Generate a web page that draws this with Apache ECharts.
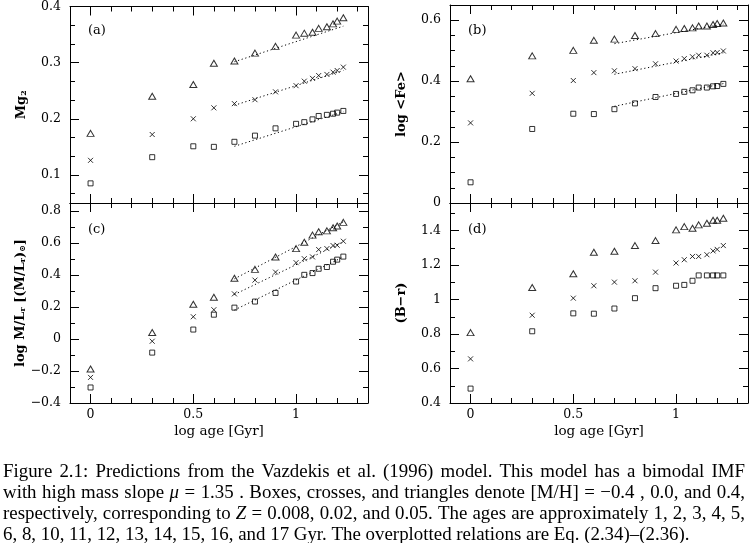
<!DOCTYPE html>
<html><head><meta charset="utf-8">
<script src="https://cdn.jsdelivr.net/npm/echarts@6/dist/echarts.min.js"></script>
<style>html,body{margin:0;padding:0;background:#fff}#c{width:749px;height:543px}</style>
</head><body><div id="c"></div>
<script>
// ---------- data ----------
const logAge = [0, 0.3, 0.5, 0.6, 0.7, 0.8, 0.9, 1.0, 1.04, 1.08, 1.11, 1.15, 1.18, 1.2, 1.23];

const mg2Box   = [0.085,0.1316,0.151,0.150,0.159,0.170,0.183,0.191,0.194,0.199,0.205,0.207,0.209,0.211,0.214];
const mg2Cross = [0.126,0.172,0.200,0.2195,0.227,0.234,0.248,0.259,0.267,0.272,0.277,0.279,0.283,0.286,0.292];
const mg2Tri   = [0.174,0.240,0.261,0.299,0.303,0.317,0.329,0.349,0.3525,0.354,0.361,0.364,0.369,0.374,0.380];

const feBox   = [0.068,0.243,0.293,0.292,0.308,0.327,0.348,0.358,0.365,0.370,0.379,0.379,0.383,0.384,0.391];
const feCross = [0.263,0.360,0.402,0.428,0.434,0.441,0.457,0.466,0.474,0.480,0.485,0.485,0.493,0.494,0.499];
const feTri   = [0.408,0.483,0.501,0.534,0.538,0.550,0.556,0.570,0.573,0.575,0.581,0.581,0.586,0.589,0.591];

const mlBox   = [-0.303,-0.085,0.059,0.152,0.196,0.234,0.288,0.359,0.401,0.412,0.439,0.450,0.483,0.496,0.515];
const mlCross = [-0.240,-0.014,0.139,0.183,0.282,0.368,0.418,0.477,0.502,0.513,0.559,0.565,0.584,0.586,0.611];
const mlTri   = [-0.188,0.041,0.217,0.261,0.380,0.435,0.513,0.565,0.605,0.649,0.670,0.676,0.695,0.706,0.729];

const brBox   = [0.4835,0.816,0.920,0.918,0.948,1.008,1.066,1.080,1.085,1.109,1.140,1.140,1.140,1.140,1.140];
const brCross = [0.656,0.909,1.008,1.080,1.101,1.109,1.159,1.212,1.231,1.250,1.250,1.260,1.282,1.291,1.313];
const brTri   = [0.808,1.070,1.150,1.274,1.280,1.313,1.342,1.404,1.423,1.414,1.433,1.443,1.460,1.460,1.472];

// overplotted relations (end points)
const mg2FitBox   = [[0.7,0.151],[1.23,0.2125]];
const mg2FitCross = [[0.7,0.224],[1.23,0.286]];
const mg2FitTri   = [[0.7,0.3016],[1.23,0.365]];
const feFitBox    = [[0.7,0.3175],[1.23,0.392]];
const feFitCross  = [[0.7,0.4226],[1.23,0.493]];
const feFitTri    = [[0.7,0.523],[1.23,0.587]];
const mlFitBox    = [[0.7,0.181],[1.23,0.513]];
const mlFitCross  = [[0.7,0.278],[1.23,0.607]];
const mlFitTri    = [[0.7,0.376],[1.23,0.733]];

// axes
const xRange = [-0.1, 1.35];
const xMajor = [0, 0.5, 1];
const xMinor = [-0.1,0,0.1,0.2,0.3,0.4,0.5,0.6,0.7,0.8,0.9,1.0,1.1,1.2,1.3];

const yRangeA = [0.05, 0.4];
const yMajorA = [0.1, 0.2, 0.3, 0.4];
const yMinorA = [0.0667,0.1,0.1333,0.1667,0.2,0.2333,0.2667,0.3,0.3333,0.3667,0.4];
const yRangeB = [0, 0.65];
const yMajorB = [0, 0.2, 0.4, 0.6];
const yMinorB = [0,0.05,0.1,0.15,0.2,0.25,0.3,0.35,0.4,0.45,0.5,0.55,0.6];
const yRangeC = [-0.4, 0.85];
const yMajorC = [-0.4,-0.2,0,0.2,0.4,0.6,0.8];
const yMinorC = [-0.4,-0.3,-0.2,-0.1,0,0.1,0.2,0.3,0.4,0.5,0.6,0.7,0.8];
const yRangeD = [0.4, 1.56];
const yMajorD = [0.4,0.6,0.8,1,1.2,1.4];
const yMinorD = [0.4,0.5,0.6,0.7,0.8,0.9,1.0,1.1,1.2,1.3,1.4,1.5];

const panelTags = ['(a)','(b)','(c)','(d)'];
const yNames = ['{m|Mg}{s|2}', 'log <Fe>', '{m|log M/L}{s|r}{m| [(M/L}{s|r}{m|)}{s|⊙}{m|]}', '(B−r)'];
const xName = 'log age [Gyr]';

const captionLines = [
  'Figure 2.1: Predictions from the Vazdekis et al. (1996) model. This model has a bimodal IMF',
  'with high mass slope *μ* = 1.35 . Boxes, crosses, and triangles denote [M/H] = −0.4 , 0.0, and 0.4,',
  'respectively, corresponding to *Z* = 0.008, 0.02, and 0.05. The ages are approximately 1, 2, 3, 4, 5,',
  '6, 8, 10, 11, 12, 13, 14, 15, 16, and 17 Gyr. The overplotted relations are Eq. (2.34)–(2.36).'
];

// ---------- layout ----------
const FONT = '"DejaVu Serif", serif';
const CAPFONT = '"Liberation Serif", serif';
const grids = [
  {left: 70,  top: 5,   width: 298, height: 198},
  {left: 450, top: 5,   width: 298, height: 198},
  {left: 70,  top: 203, width: 298, height: 200},
  {left: 450, top: 203, width: 298, height: 200}
];
const panels = [
  {yr: yRangeA, yMaj: yMajorA, yMin: yMinorA, xLabels: false, sets: [mg2Box, mg2Cross, mg2Tri], fits: [mg2FitBox, mg2FitCross, mg2FitTri]},
  {yr: yRangeB, yMaj: yMajorB, yMin: yMinorB, xLabels: false, sets: [feBox, feCross, feTri], fits: [feFitBox, feFitCross, feFitTri]},
  {yr: yRangeC, yMaj: yMajorC, yMin: yMinorC, xLabels: true,  sets: [mlBox, mlCross, mlTri], fits: [mlFitBox, mlFitCross, mlFitTri]},
  {yr: yRangeD, yMaj: yMajorD, yMin: yMinorD, xLabels: true,  sets: [brBox, brCross, brTri], fits: []}
];

const fmt = v => { const s = String(+v.toFixed(3)); return s.replace('-', '−'); };
const nameRich = {
  m: {fontFamily: FONT, fontSize: 13, color: '#000', fontWeight: 'bold'},
  s: {fontFamily: FONT, fontSize: 8, color: '#000', verticalAlign: 'bottom', padding: [0,0,0,0], lineHeight: 10, fontWeight: 'bold'}
};

function axis(dim, gi, pos, range, ticks, len, line, labels, name) {
  const a = {
    type: 'value', gridIndex: gi, position: pos, min: range[0], max: range[1],
    splitLine: {show: false},
    axisLine: {show: line, onZero: false, lineStyle: {color: '#000', width: 1}},
    axisTick: {show: true, inside: true, length: len, customValues: ticks, lineStyle: {color: '#000', width: 1}},
    axisLabel: labels ? {show: true, customValues: labels, formatter: fmt, color: '#000',
                         fontFamily: FONT, fontSize: 12.5, margin: dim === 'x' ? 5 : 9}
                      : {show: false}
  };
  if (name) Object.assign(a, name);
  return a;
}

const xAxes = [], yAxes = [], series = [];
panels.forEach((p, gi) => {
  const xn = p.xLabels ? {name: xName, nameLocation: 'middle', nameGap: 21,
    nameTextStyle: {fontFamily: FONT, fontSize: 13.5, color: '#000', fontWeight: 'normal'}} : null;
  xAxes.push(axis('x', gi, 'bottom', xRange, xMajor, 9, true, p.xLabels ? xMajor : null, xn));
  xAxes.push(axis('x', gi, 'bottom', xRange, xMinor, 5, false, null));
  xAxes.push(axis('x', gi, 'top', xRange, xMajor, 9, true, null));
  xAxes.push(axis('x', gi, 'top', xRange, xMinor, 5, false, null));
  const yn = {name: yNames[gi], nameLocation: 'middle', nameGap: 42, nameRotate: 90,
    nameTextStyle: {fontFamily: FONT, fontSize: 13, color: '#000', fontWeight: 'bold', rich: nameRich}};
  yAxes.push(axis('y', gi, 'left', p.yr, p.yMaj, 9, true, p.yMaj, yn));
  yAxes.push(axis('y', gi, 'left', p.yr, p.yMin, 5, false, null));
  yAxes.push(axis('y', gi, 'right', p.yr, p.yMaj, 9, true, null));
  yAxes.push(axis('y', gi, 'right', p.yr, p.yMin, 5, false, null));

  const syms = [
    {symbol: 'rect', size: 5},
    {symbol: 'path://M0 0L10 10M10 0L0 10', size: 5},
    {symbol: 'triangle', size: [7, 6]}
  ];
  p.sets.forEach((vals, k) => {
    series.push({
      type: 'scatter', xAxisIndex: gi * 4, yAxisIndex: gi * 4,
      data: vals.map((v, i) => [logAge[i], v]),
      symbol: syms[k].symbol, symbolSize: syms[k].size,
      itemStyle: {color: 'rgba(0,0,0,0)', borderColor: '#000', borderWidth: 1},
      emphasis: {disabled: true}, silent: true, z: 3
    });
  });
  p.fits.forEach(f => {
    series.push({
      type: 'line', xAxisIndex: gi * 4, yAxisIndex: gi * 4, data: f,
      showSymbol: false, symbol: 'none',
      lineStyle: {color: '#000', width: 1, type: [1.2, 2.6]}, silent: true, z: 2
    });
  });
});

// ---------- caption (justified) ----------
const graphics = [];
const tagPos = [[88, 31], [468, 31], [88, 230], [468, 230]];
panelTags.forEach((t, i) => graphics.push({type: 'text', x: tagPos[i][0], y: tagPos[i][1],
  style: {text: t, font: '13px ' + FONT, fill: '#000', align: 'left', verticalAlign: 'middle'}}));

const ctx = document.createElement('canvas').getContext('2d');
function tokFont(size, italic) { return (italic ? 'italic ' : '') + size + 'px ' + CAPFONT; }
function measure(tok, size) {
  const it = /^\*.*\*$/.test(tok);
  ctx.font = tokFont(size, it);
  return ctx.measureText(it ? tok.slice(1, -1) : tok).width;
}
let capSize = 16;
{
  const words = captionLines[3].split(' ');
  ctx.font = tokFont(16, false);
  const sp = ctx.measureText(' ').width;
  const w = words.reduce((s, t) => s + measure(t, 16), 0) + sp * (words.length - 1);
  capSize = 16 * 687 / w;
}
const capY = [472, 493, 514, 535];
captionLines.forEach((line, li) => {
  const words = line.split(' ');
  const widths = words.map(t => measure(t, capSize));
  const total = widths.reduce((a, b) => a + b, 0);
  ctx.font = tokFont(capSize, false);
  let gap = ctx.measureText(' ').width;
  if (li < captionLines.length - 1) gap = (742 - total) / (words.length - 1);
  let x = 3;
  words.forEach((t, i) => {
    const it = /^\*.*\*$/.test(t);
    graphics.push({type: 'text', x: x, y: capY[li], silent: true,
      style: {text: it ? t.slice(1, -1) : t, font: tokFont(capSize.toFixed(2), it), fill: '#000',
              align: 'left', verticalAlign: 'middle'}});
    x += widths[i] + gap;
  });
});

const chart = echarts.init(document.getElementById('c'), null, {renderer: 'canvas'});
chart.setOption({
  backgroundColor: '#fff',
  animation: false,
  grid: grids.map(g => Object.assign({containLabel: false}, g)),
  xAxis: xAxes, yAxis: yAxes, series: series, graphic: graphics
});
</script></body></html>
